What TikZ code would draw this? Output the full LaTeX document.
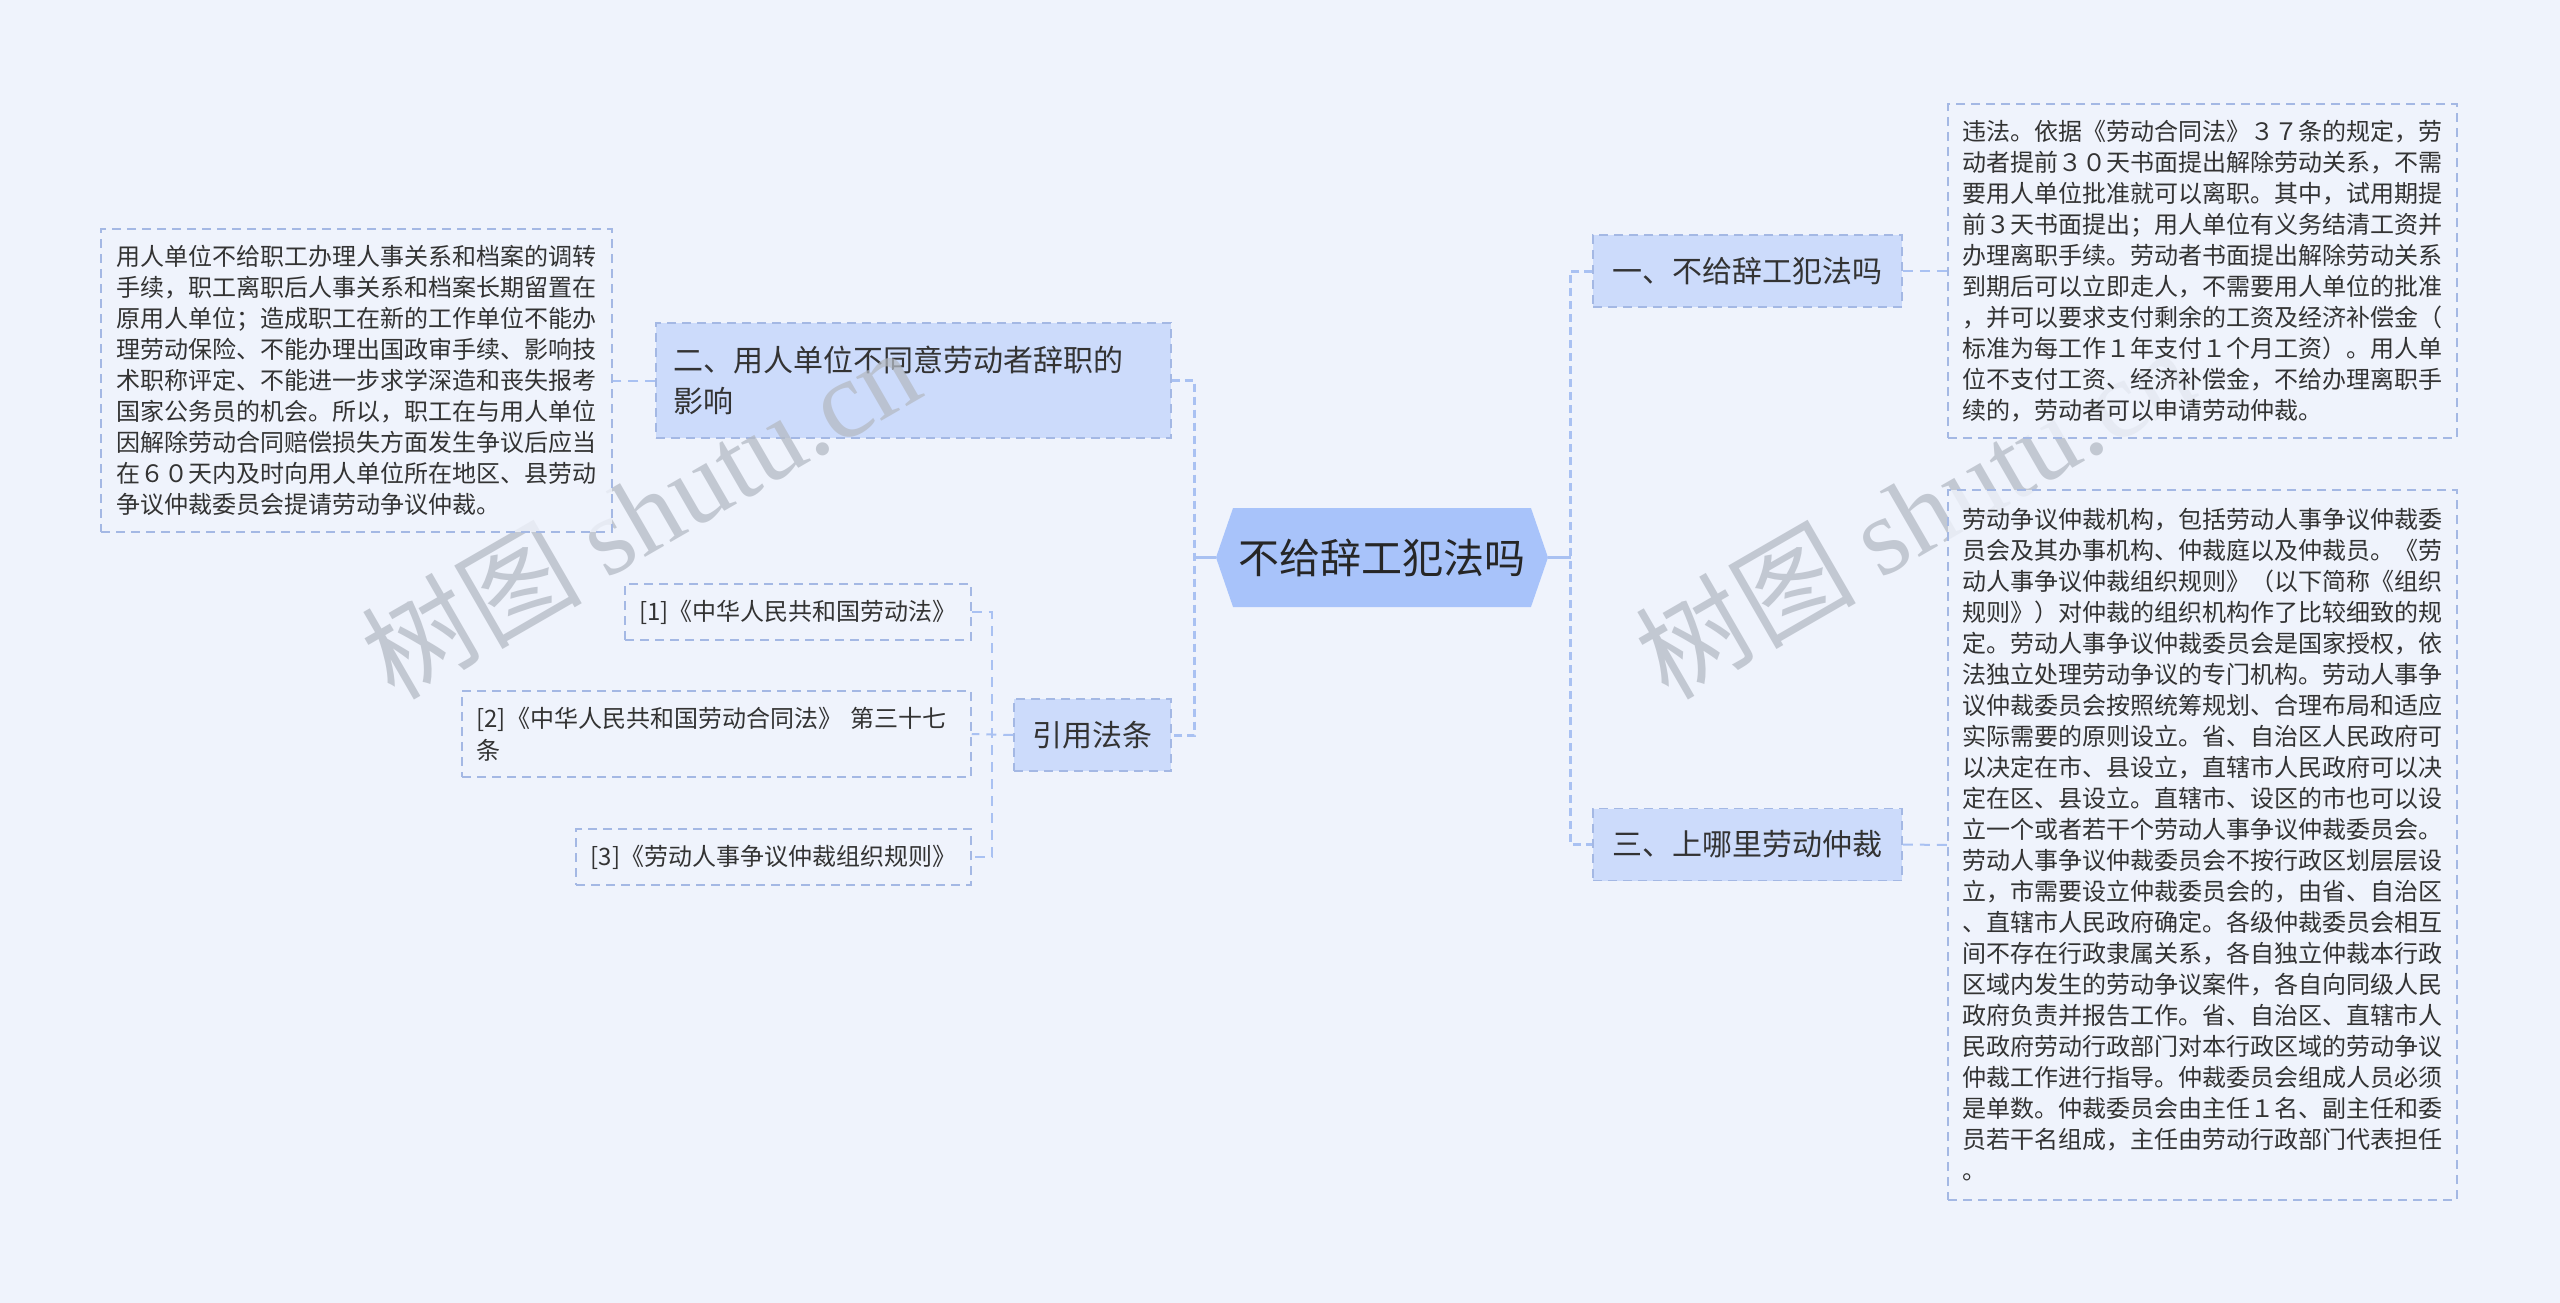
\documentclass[tikz,border=0pt]{standalone}
\usepackage{fontspec}
\setmainfont{Noto Sans CJK SC}
\newfontfamily\wmlatin{Liberation Serif}
\usetikzlibrary{shapes.symbols}
\definecolor{bgc}{HTML}{EFF3FC}
\definecolor{hexc}{HTML}{A8C3FA}
\definecolor{brc}{HTML}{CCDBFB}
\definecolor{bdc}{HTML}{A4B8E4}
\definecolor{lnc}{HTML}{A9C1F2}
\definecolor{txc}{HTML}{333333}
\definecolor{wmc}{HTML}{B4BAC4}
\begin{document}
\begin{tikzpicture}[x=1pt,y=-1pt,
  box/.style={draw=bdc, line width=1.5pt, dash pattern=on 9pt off 6pt, text=txc, inner sep=0pt},
  branch/.style={box, fill=brc, font=\fontsize{30}{41}\selectfont, align=left},
  leaf/.style={box, fill=bgc, fill opacity=0.8, text opacity=1, font=\fontsize{24}{31}\selectfont, align=left},
  refbox/.style={box, fill=bgc, font=\fontsize{24}{32}\selectfont, align=left},
  mainln/.style={draw=lnc, line width=3pt},
  spine/.style={draw=lnc, line width=3pt, dash pattern=on 8pt off 5pt},
  thinln/.style={draw=lnc, line width=2pt, dash pattern=on 10pt off 7pt},
  wm/.style={text=wmc, opacity=0.75, rotate=30, font=\fontsize{110}{110}\selectfont}
]
\fill[bgc] (0,0) rectangle (2560,1303);
\useasboundingbox (0,0) rectangle (2560,1303);

% central node
\node[signal, signal to=east and west, signal pointer angle=142, fill=hexc, text=black!85,
      minimum width=332pt, minimum height=99pt, inner sep=0pt,
      font=\fontsize{41}{41}\selectfont] (c) at (1382,557.5) {不给辞工犯法吗};

% right branches
\node[branch, minimum width=309pt, minimum height=72pt] (b1) at (1747.5,271) {一、不给辞工犯法吗};
\node[branch, minimum width=309pt, minimum height=72pt] (b3) at (1747.5,844.5) {三、上哪里劳动仲裁};

% left branches
\node[branch, minimum width=515pt, minimum height=115pt, text width=480pt] (b2) at (913.5,380.5)
  {二、用人单位不同意劳动者辞职的\\影响};
\node[branch, minimum width=157pt, minimum height=72pt] (cite) at (1092.5,735) {引用法条};

% references
\node[refbox, minimum width=346pt, minimum height=56pt] (r1) at (798,612) {[1]《中华人民共和国劳动法》};
\node[refbox, minimum width=509pt, minimum height=86pt, text width=480pt] (r2) at (716.5,734)
  {[2]《中华人民共和国劳动合同法》 第三十七\\条};
\node[refbox, minimum width=395pt, minimum height=56pt] (r3) at (773.5,857) {[3]《劳动人事争议仲裁组织规则》};

% connectors
\draw[mainln] (c.east) -- ++(23,0);
\draw[mainln] (c.west) -- ++(-22,0);
\draw[spine] (b1.west) -- ++(-22,0) |- (b3.west);
\draw[spine] (b2.east) -- ++(23,0) |- (cite.east);
\draw[thinln] (r1.east) -- ++(20,0) |- (r3.east);
\draw[thinln] (cite.west) -- (r2.east);

% watermarks
\node[wm] (wm1) at (640,512) {树图 {\wmlatin shutu.cn}};
\node[wm] (wm2) at (1914,512) {树图 {\wmlatin shutu.cn}};

% leaves
\node[leaf, minimum width=509pt, minimum height=334pt] (l1) at (2202.5,271) {%
违法。依据《劳动合同法》３７条的规定，劳\\
动者提前３０天书面提出解除劳动关系，不需\\
要用人单位批准就可以离职。其中，试用期提\\
前３天书面提出；用人单位有义务结清工资并\\
办理离职手续。劳动者书面提出解除劳动关系\\
到期后可以立即走人，不需要用人单位的批准\\
，并可以要求支付剩余的工资及经济补偿金（\\
标准为每工作１年支付１个月工资）。用人单\\
位不支付工资、经济补偿金，不给办理离职手\\
续的，劳动者可以申请劳动仲裁。};

\node[leaf, minimum width=509pt, minimum height=710pt] (l3) at (2202.5,845) {%
劳动争议仲裁机构，包括劳动人事争议仲裁委\\
员会及其办事机构、仲裁庭以及仲裁员。《劳\\
动人事争议仲裁组织规则》（以下简称《组织\\
规则》）对仲裁的组织机构作了比较细致的规\\
定。劳动人事争议仲裁委员会是国家授权，依\\
法独立处理劳动争议的专门机构。劳动人事争\\
议仲裁委员会按照统筹规划、合理布局和适应\\
实际需要的原则设立。省、自治区人民政府可\\
以决定在市、县设立，直辖市人民政府可以决\\
定在区、县设立。直辖市、设区的市也可以设\\
立一个或者若干个劳动人事争议仲裁委员会。\\
劳动人事争议仲裁委员会不按行政区划层层设\\
立，市需要设立仲裁委员会的，由省、自治区\\
、直辖市人民政府确定。各级仲裁委员会相互\\
间不存在行政隶属关系，各自独立仲裁本行政\\
区域内发生的劳动争议案件，各自向同级人民\\
政府负责并报告工作。省、自治区、直辖市人\\
民政府劳动行政部门对本行政区域的劳动争议\\
仲裁工作进行指导。仲裁委员会组成人员必须\\
是单数。仲裁委员会由主任１名、副主任和委\\
员若干名组成，主任由劳动行政部门代表担任\\
。};

\node[leaf, minimum width=511pt, minimum height=303pt] (l2) at (356.5,380.5) {%
用人单位不给职工办理人事关系和档案的调转\\
手续，职工离职后人事关系和档案长期留置在\\
原用人单位；造成职工在新的工作单位不能办\\
理劳动保险、不能办理出国政审手续、影响技\\
术职称评定、不能进一步求学深造和丧失报考\\
国家公务员的机会。所以，职工在与用人单位\\
因解除劳动合同赔偿损失方面发生争议后应当\\
在６０天内及时向用人单位所在地区、县劳动\\
争议仲裁委员会提请劳动争议仲裁。};

\draw[thinln] (b1.east) -- (l1.west);
\draw[thinln] (b3.east) -- (l3.west);
\draw[thinln] (b2.west) -- (l2.east);
\end{tikzpicture}
\end{document}
